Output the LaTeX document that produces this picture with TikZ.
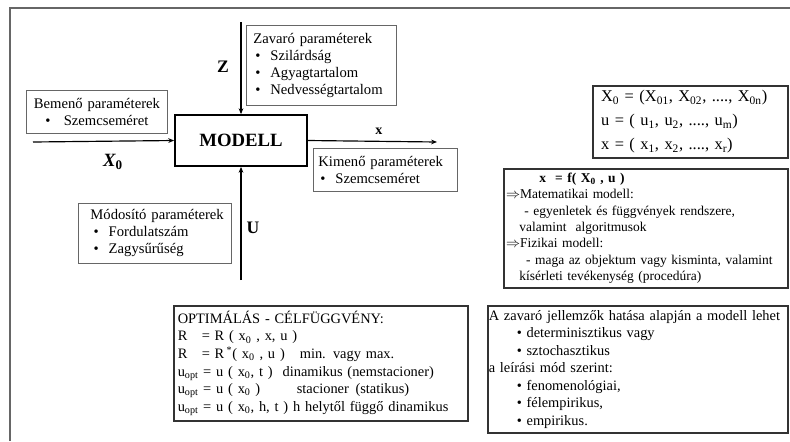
\documentclass[tikz,border=0pt]{standalone}
\usepackage{fontspec}
\setmainfont{Liberation Serif}
\usetikzlibrary{arrows.meta}
\newcommand{\pbul}{\hspace*{0.06cm}\makebox[0.45cm][l]{\textbullet}}
\newcommand{\zbul}{\hspace*{0.84cm}\textbullet\ }
\begin{document}
\begin{tikzpicture}[x=0.03cm, y=-0.03cm,
  pbox/.style={draw=gray!80!black, line width=0.7pt, anchor=north west, inner ysep=0pt, font=\fontsize{12.5}{14.5}\selectfont},
  ibox/.style={draw=black!80, line width=1.3pt, anchor=north west, inner ysep=0pt, align=left},
  lbl/.style={font=\fontsize{15}{15}\selectfont\bfseries},
  conn/.style={line width=1pt, -{Stealth[length=5pt,width=4pt]}}]
\useasboundingbox (0,0) rectangle (790,441);
% frame
\draw[line width=2.2pt, black!60] (10,441) -- (10,8) -- (790,8);

% model and its inputs / outputs
\node[draw, line width=1.5pt, minimum width=3.96cm, minimum height=1.53cm, font=\fontsize{16}{16}\selectfont\bfseries] (modell) at (241,140.5) {MODELL};
\coordinate (zTop) at (241,22);
\coordinate (uBot) at (241,280);
\coordinate (xIn) at (33,142);
\coordinate (xOut) at (437,142);
\draw[conn] (zTop) -- (modell.north);
\draw[conn] (uBot) -- (modell.south);
\draw[conn] (xIn) -- (modell.west);
\draw[conn] (modell.east) -- (xOut);
\node[lbl] (zlab) at (223,67) {Z};
\node[lbl] (ulab) at (253,228) {U};
\node[font=\fontsize{16}{16}\selectfont\bfseries\itshape] (x0lab) at (113,162) {X\textsubscript{\upshape 0}};
\node[font=\fontsize{12}{12}\selectfont\bfseries] (xlab) at (379,131) {x};

% parameter boxes
\node[pbox, align=center, inner xsep=0.21cm, text width=3.81cm, minimum height=1.29cm] (bemeno) at (26,90)
  {Bemenő paraméterek\\ \textbullet\hspace{0.4cm}Szemcseméret};
\node[pbox, align=left, inner xsep=0.21cm, text width=4.08cm, minimum height=2.4cm] (zavaro) at (246,25)
  {Zavaró paraméterek\\ \pbul Szilárdság\\ \pbul Agyagtartalom\\ \pbul Nedvességtartalom};
\node[pbox, align=left, inner xsep=0.15cm, text width=4.02cm, minimum height=1.29cm] (kimeno) at (313,148)
  {Kimenő paraméterek\\ \pbul Szemcseméret};
\node[pbox, align=left, inner xsep=0.1cm, text width=4.39cm, minimum height=1.8cm] (modosito) at (78,203)
  {\hspace*{0.26cm}Módosító paraméterek\\ \hspace*{0.3cm}\pbul Fordulatszám\\ \hspace*{0.3cm}\pbul Zagysűrűség};

% right-hand notes
\node[ibox, inner xsep=0.25cm, text width=5.35cm, minimum height=2.16cm, font=\fontsize{14}{20.5}\selectfont] (vektor) at (592,85)
  {X\textsubscript{0} = (X\textsubscript{01}, X\textsubscript{02}, ...., X\textsubscript{0n})\\
   u = ( u\textsubscript{1}, u\textsubscript{2}, ...., u\textsubscript{m})\\
   x = ( x\textsubscript{1}, x\textsubscript{2}, ...., x\textsubscript{r})};
\node[ibox, inner xsep=2pt, inner ysep=1pt, text width=8.38cm, minimum height=3.57cm, font=\fontsize{11.5}{13.9}\selectfont] (modtip) at (503,168)
  {\hspace*{1cm}\textbf{x\ \ = f( X\textsubscript{0} , u )}\\
   $\Rightarrow$Matematikai modell:\\
   \hspace*{0.55cm}- egyenletek és függvények rendszere,\\
   \hspace*{0.4cm}valamint\ \ algoritmusok\\
   $\Rightarrow$Fizikai modell:\\
   \hspace*{0.6cm}- maga az objektum vagy kisminta, valamint\\
   \hspace*{0.4cm}kísérleti tevékenység (procedúra)};
\node[ibox, inner xsep=0.12cm, text width=8.58cm, minimum height=3.45cm, font=\fontsize{12.3}{15}\selectfont] (optim) at (173,305)
  {OPTIMÁLÁS - CÉLFÜGGVÉNY:\\
   R\ \ \ = R ( x\textsubscript{0} , x, u )\\
   R\ \ \ = R\,\textsuperscript{*}( x\textsubscript{0} , u )\hspace{0.45cm}min. vagy max.\\
   u\textsubscript{opt} = u ( x\textsubscript{0}, t )\hspace{0.3cm}dinamikus (nemstacioner)\\
   u\textsubscript{opt} = u ( x\textsubscript{0} )\hspace{1.1cm}stacioner\hspace{0.2cm}(statikus)\\
   u\textsubscript{opt} = u ( x\textsubscript{0}, h, t ) h helytől függő dinamikus};
\node[ibox, inner xsep=0.03cm, text width=8.94cm, minimum height=3.81cm, font=\fontsize{12.3}{15}\selectfont] (jellemzo) at (487,305)
  {A zavaró jellemzők hatása alapján a modell lehet\\
   \zbul determinisztikus vagy\\
   \zbul sztochasztikus\\
   a leírási mód szerint:\\
   \zbul fenomenológiai,\\
   \zbul félempirikus,\\
   \zbul empirikus.};
\end{tikzpicture}
\end{document}
